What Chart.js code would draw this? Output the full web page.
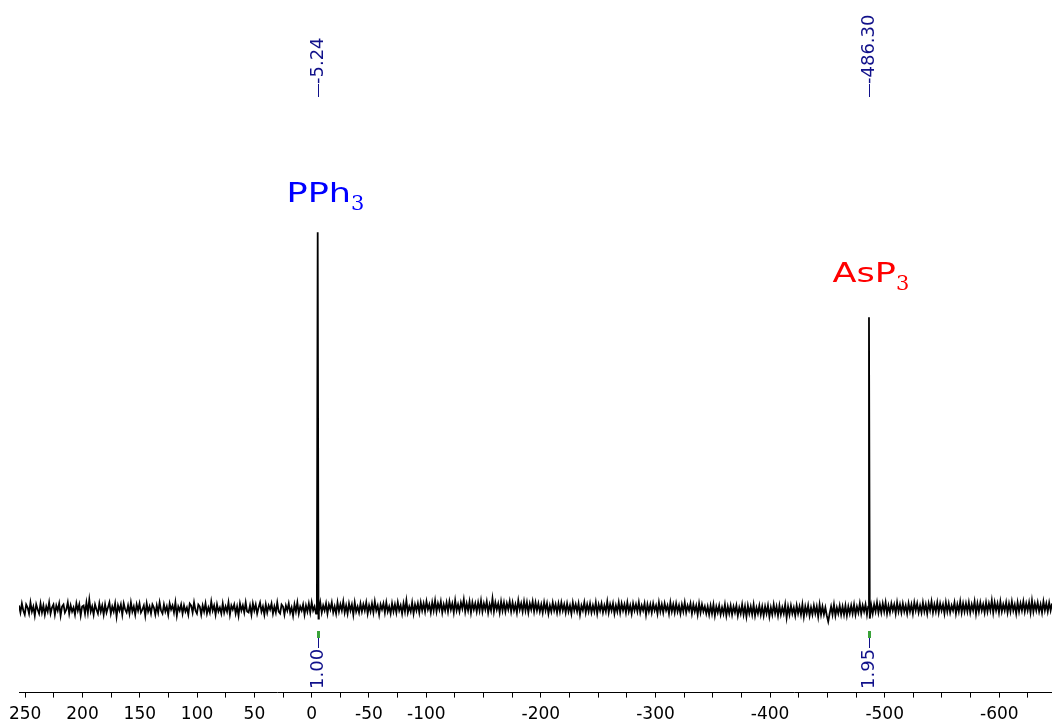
<!DOCTYPE html>
<html>
<head>
<meta charset="utf-8">
<script src="https://cdn.jsdelivr.net/npm/chart.js@4.4.1/dist/chart.umd.min.js"></script>
<style>
  html, body { margin: 0; padding: 0; background: #fff; }
  #wrap { width: 1052px; height: 726px; }
</style>
</head>
<body>
<div id="wrap"><canvas id="nmr" width="1052" height="726"></canvas></div>
<script>
// ----- spectrum data (ppm, intensity in arbitrary units above baseline) -----
const peakShifts = [-5.24, -486.30];
const peakHeights = [376, 291];
const shiftLabels = ['-5.24', '-486.30'];
const integralLabels = ['1.00', '1.95'];
const compoundNames = ['PPh', 'AsP'];
const compoundSubs = ['3', '3'];
const compoundColors = ['#0000ff', '#ff0000'];

const tickValues = [250, 225, 200, 175, 150, 125, 100, 75, 50, 25, 0, -25, -50, -75, -100,
  -125, -150, -175, -200, -225, -250, -275, -300, -325, -350, -375, -400, -425, -450,
  -475, -500, -525, -550, -575, -600, -625];
const labelValues = [250, 200, 150, 100, 50, 0, -50, -100, -200, -300, -400, -500, -600];

// baseline noise, one value per grid step
const noiseStart = 255.4;
const noiseStep = 1.252;
const noise = [
  3,-4,5,-2,-6,4,1,-5,6,-3,2,-7,4,-1,-5,5,-4,3,-6,2,
  -3,6,-5,1,4,-6,3,-2,5,-7,2,4,-4,-1,6,-5,3,-3,1,-6,
  5,-2,4,-7,2,3,-5,6,-4,9,-3,2,-6,4,-1,-5,5,-3,3,-6,
  4,-4,1,6,-5,2,-3,5,-8,3,-2,4,-6,5,-1,-4,3,-5,6,-3,
  2,-6,4,-2,5,-4,-1,3,-7,5,-3,2,-5,4,1,-6,3,-4,6,-2,
  -5,4,-3,2,-6,5,-1,3,-4,6,-7,2,-2,4,-5,3,-3,1,-6,5,
  3,-4,6,-2,-5,4,2,-6,3,-3,5,-5,1,-4,7,-2,3,-6,4,-3,
  1,-5,5,-4,2,-3,6,-6,3,-1,4,-5,2,-7,5,-2,3,-4,6,-3,
  -4,3,-6,5,-2,4,-5,1,6,-3,2,-6,4,-4,3,-1,5,-5,2,-4,
  6,-3,-5,4,2,-6,3,-2,5,-4,1,-7,4,-3,6,-5,2,-2,4,-6,
  3,-3,5,-4,6,-2,2,-5,4,-3,6,-4,3,-2,5,-5,4,-1,6,-4,
  2,-5,6,-3,4,-2,7,-4,3,-5,5,-2,4,-6,6,-3,2,-4,5,-3,
  4,-2,6,-5,3,-3,5,-4,7,-2,3,-6,4,-1,5,-4,6,-3,2,-5,
  5,-3,4,-4,6,-2,3,-5,5,-3,8,-4,2,-3,6,-5,4,-2,5,-4,
  6,-2,5,-3,7,-1,4,-4,6,-2,8,-3,5,-1,7,-4,4,-2,6,-3,
  7,-1,5,-4,8,-2,4,-3,6,0,9,-3,5,-2,7,-4,6,-1,5,-3,
  6,-2,8,-3,5,-1,7,-4,4,-2,10,-3,6,-1,5,-4,7,-2,6,-3,
  5,-1,7,-3,6,-2,4,-4,8,-1,5,-3,7,-2,6,-4,5,-1,7,-3,
  6,-2,5,-3,4,-4,6,-2,5,-5,3,-3,6,-2,4,-4,5,-3,6,-2,
  4,-4,5,-3,3,-5,6,-2,4,-3,5,-6,3,-2,6,-4,4,-3,5,-4,
  3,-3,6,-5,4,-2,5,-4,3,-3,7,-4,4,-2,5,-5,3,-3,6,-4,
  5,-2,4,-4,6,-3,3,-5,5,-2,4,-3,6,-4,3,-2,5,-6,4,-3,
  4,-4,5,-2,3,-5,6,-3,4,-4,5,-2,3,-5,6,-3,4,-4,5,-3,
  3,-5,4,-3,6,-4,3,-2,5,-5,4,-3,3,-6,5,-4,4,-3,2,-5,
  2,-6,3,-5,4,-7,2,-4,3,-6,1,-5,4,-7,2,-5,3,-6,2,-4,
  3,-7,1,-5,4,-6,2,-8,3,-5,2,-6,4,-7,1,-5,3,-6,2,-7,
  2,-5,3,-8,1,-6,4,-5,2,-7,3,-6,1,-5,4,-9,2,-6,3,-5,
  1,-7,3,-5,2,-6,4,-8,2,-5,3,-7,1,-6,3,-5,2,-8,4,-6,
  2,-6,1,-7,-13,-5,2,-6,4,-7,1,-5,3,-6,2,-6,3,-7,2,-5,
  3,-5,4,-6,2,-4,5,-5,3,-3,4,-6,5,-4,3,-5,4,-3,6,-4,
  4,-4,5,-3,6,-5,3,-4,5,-2,4,-5,6,-3,4,-4,5,-3,3,-5,
  5,-3,4,-5,6,-2,5,-4,3,-4,6,-3,4,-5,5,-2,7,-4,4,-3,
  6,-4,5,-2,4,-5,6,-3,5,-4,3,-2,6,-5,4,-3,7,-4,5,-3,
  5,-3,6,-4,4,-2,7,-5,5,-3,6,-2,4,-4,6,-3,5,-2,8,-4,
  6,-2,5,-4,7,-3,4,-2,6,-4,5,-3,7,-2,4,-5,6,-3,5,-2,
  7,-3,5,-2,6,-4,8,-3,5,-2,6,-3,4,-4,7,-2,5,-3,6,-2,
  5
];

// ----- build the trace -----
const points = [];
noise.forEach((v, i) => {
  const ppm = noiseStart - i * noiseStep;
  if (peakShifts.some(s => Math.abs(ppm - s) < 1.0)) return;
  points.push({ x: ppm, y: v });
});
peakShifts.forEach((s, i) => {
  points.push({ x: s + 0.7, y: 2 });
  points.push({ x: s, y: peakHeights[i] });
  points.push({ x: s - 0.7, y: -10 });
});
points.sort((a, b) => b.x - a.x);

// ----- annotation plugin: shift labels, integrals, compound names -----
const annotate = {
  id: 'annotate',
  afterDatasetsDraw(chart) {
    const { ctx, scales: { x, y } } = chart;
    const navy = '#10108a';
    ctx.save();
    peakShifts.forEach((s, i) => {
      const px = Math.round(x.getPixelForValue(s)) + 0.5;

      // peak pick label at top
      ctx.strokeStyle = navy;
      ctx.lineWidth = 1;
      ctx.beginPath(); ctx.moveTo(px, 97); ctx.lineTo(px, 84); ctx.stroke();
      ctx.save();
      ctx.translate(px, 84);
      ctx.rotate(-Math.PI / 2);
      ctx.font = '18px "DejaVu Sans"';
      ctx.fillStyle = navy;
      ctx.textAlign = 'left';
      ctx.textBaseline = 'middle';
      ctx.fillText(shiftLabels[i], 0, 0);
      ctx.restore();

      // integral mark below the trace
      ctx.fillStyle = '#3aa23a';
      ctx.fillRect(px - 1.5, 631, 3, 7);
      ctx.beginPath(); ctx.moveTo(px, 638); ctx.lineTo(px, 648); ctx.stroke();
      ctx.save();
      ctx.translate(px, 689);
      ctx.rotate(-Math.PI / 2);
      ctx.font = '18px "DejaVu Sans"';
      ctx.fillStyle = navy;
      ctx.textAlign = 'left';
      ctx.textBaseline = 'middle';
      ctx.fillText(integralLabels[i], 0, 0);
      ctx.restore();

      // compound name above the peak
      const top = y.getPixelForValue(peakHeights[i]);
      const off = i === 0 ? [-32, -30] : [-37, -35];
      const left = px + off[0], base = top + off[1];
      const sx = 1.35;
      ctx.save();
      ctx.translate(left, base);
      ctx.scale(sx, 1);
      ctx.font = '26px "DejaVu Sans"';
      ctx.fillStyle = compoundColors[i];
      ctx.textAlign = 'left';
      ctx.textBaseline = 'alphabetic';
      ctx.fillText(compoundNames[i], 0, 0);
      const w = ctx.measureText(compoundNames[i]).width * sx;
      ctx.restore();
      ctx.font = '21px "DejaVu Serif"';
      ctx.fillStyle = compoundColors[i];
      ctx.textAlign = 'left';
      ctx.textBaseline = 'alphabetic';
      ctx.fillText(compoundSubs[i], left + w, base + 8);
    });
    ctx.restore();
  }
};

new Chart(document.getElementById('nmr'), {
  type: 'line',
  data: {
    datasets: [{
      data: points,
      borderColor: '#000',
      borderWidth: 1.8,
      pointRadius: 0,
      tension: 0,
      fill: false
    }]
  },
  options: {
    responsive: false,
    animation: false,
    layout: { padding: { left: 19, right: 0, top: 0, bottom: -6 } },
    plugins: { legend: { display: false }, tooltip: { enabled: false } },
    scales: {
      x: {
        type: 'linear',
        reverse: true,
        min: -646,
        max: 255.4,
        afterBuildTicks: scale => { scale.ticks = tickValues.map(v => ({ value: v })); },
        ticks: {
          autoSkip: false,
          maxRotation: 0,
          color: '#000',
          padding: 7,
          font: { family: 'DejaVu Sans', size: 17 },
          callback: v => labelValues.includes(v) ? String(v) : ''
        },
        grid: { drawOnChartArea: false, drawTicks: true, tickLength: 5, color: '#000', lineWidth: 1 },
        border: { display: true, color: '#000', width: 1 }
      },
      y: {
        display: false,
        min: -84,
        max: 608
      }
    }
  },
  plugins: [annotate]
});
</script>
</body>
</html>
